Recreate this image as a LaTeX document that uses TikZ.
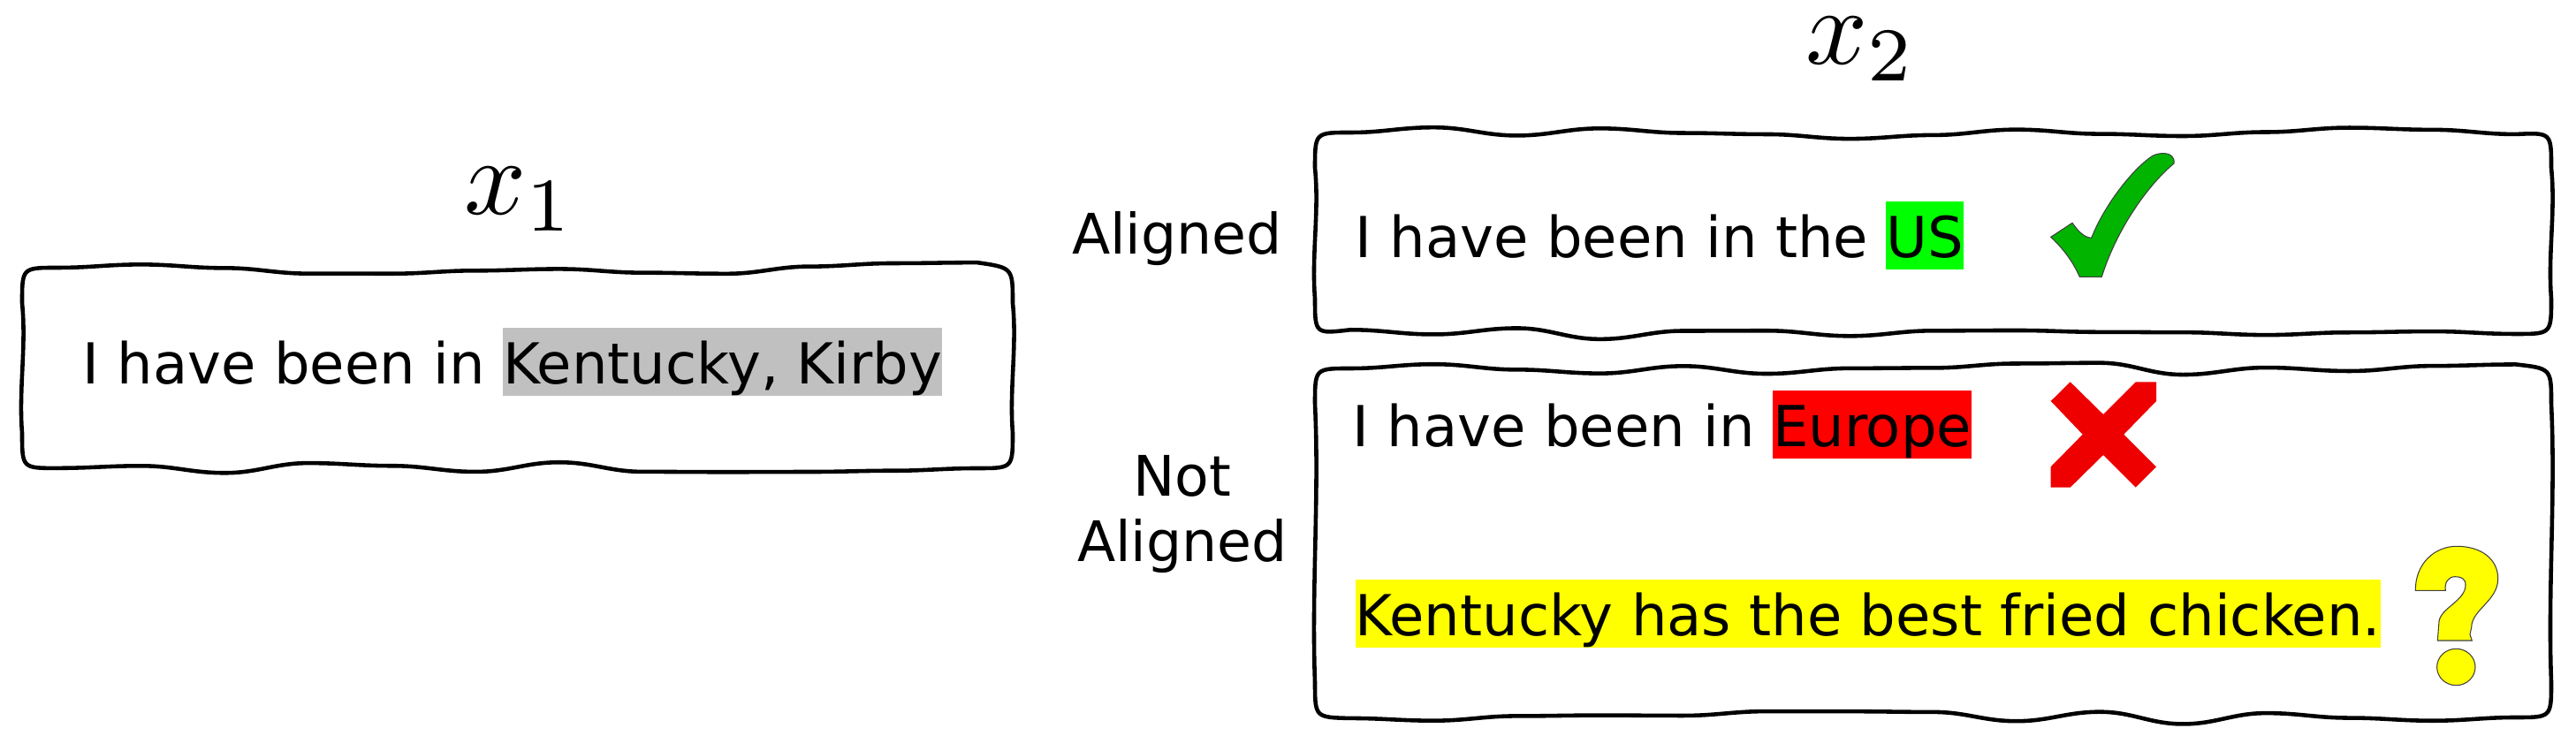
\documentclass[tikz,border=0pt]{standalone}
\usepackage[no-math]{fontspec}
\setmainfont{DejaVu Sans}

\definecolor{hlgray}{RGB}{192,192,192}
\definecolor{hlgreen}{RGB}{0,255,0}
\definecolor{hlred}{RGB}{255,0,0}
\definecolor{hlyellow}{RGB}{255,255,0}
\definecolor{tickgreen}{RGB}{0,180,0}
\definecolor{crossred}{RGB}{238,0,0}

\newcommand{\hlword}[2]{{\setlength{\fboxsep}{0pt}\colorbox{#1}{\rule[-3.7pt]{0pt}{21.8pt}#2}}}

% wavy hand drawn frame: left, top, right, bottom
\newcommand{\sketchframe}[4]{%
  \pgfmathsetmacro\fw{#3-#1-0.8}
  \pgfmathtruncatemacro\fn{round(\fw/0.95)}
  \pgfmathsetmacro\fs{\fw/\fn}
  \pgfmathsetmacro\fh{#2-#4-0.8}
  \draw[framepen] (#1,#2-0.4) .. controls (#1,#2) .. (#1+0.4,#2)
    \foreach \k [evaluate=\k as \a using {0.075*rand}, remember=\a as \prev (initially 0)] in {1,...,\fn}
      { .. controls +(\fs/2.5,0) and +(-\fs/2.5,0) .. ++(\fs,\a-\prev) }
    .. controls (#3,#2) .. (#3,#2-0.4)
    .. controls +(0.05,-\fh/3) and +(-0.04,\fh/3) .. (#3,#4+0.4)
    .. controls (#3,#4) .. (#3-0.4,#4)
    \foreach \k [evaluate=\k as \a using {0.075*rand}, remember=\a as \prev (initially 0)] in {1,...,\fn}
      { .. controls +(-\fs/2.5,0) and +(\fs/2.5,0) .. ++(-\fs,\a-\prev) }
    .. controls (#1,#4) .. (#1,#4+0.4)
    .. controls +(-0.04,\fh/3) and +(0.05,-\fh/3) .. cycle;
}

\begin{document}
\begin{tikzpicture}

    \tikzset{
      framepen/.style={
        line width=1.3pt,
        line join=round,
      },
      sentence/.style={
        anchor=base west,
        inner sep=0pt,
        font=\fontsize{18.2}{21.3}\selectfont,
      },
      tag/.style={
        align=center,
        inner sep=0pt,
        font=\fontsize{18}{21.3}\selectfont,
      },
      symbolfill/.style={draw={black!75}, line width=0.3pt},
    }
    \pgfmathsetseed{5}
    \useasboundingbox (0,0) rectangle (29.15,-8.5);

    \sketchframe{0.25}{-3.03}{11.46}{-5.30}
    \sketchframe{14.88}{-1.50}{28.87}{-3.78}
    \sketchframe{14.88}{-4.17}{28.87}{-8.12}

    \node[anchor=base, inner sep=0pt, scale=3.5] (xone) at (5.88,-2.43) {$x_1$};
    \node[anchor=base, inner sep=0pt, scale=3.5] (xtwo) at (21.06,-0.73) {$x_2$};

    \node[tag, anchor=base] (alignedtag) at (13.32,-2.88) {Aligned};
    \node[tag, anchor=center] (notalignedtag) at (13.38,-5.82) {Not\\Aligned};

    \node[sentence] (srctext) at (0.93,-4.35) {I have been in \hlword{hlgray}{Kentucky, Kirby}};
    \node[sentence] (ustext) at (15.33,-2.92) {I have been in the \hlword{hlgreen}{US}};
    \node[sentence] (eutext) at (15.30,-5.06) {I have been in \hlword{hlred}{Europe}};
    \node[sentence] (kytext) at (15.33,-7.20) {\hlword{hlyellow}{Kentucky has the best fried chicken.}};

    \filldraw[symbolfill, fill=tickgreen] (23.207,-2.683) -- (23.45,-2.523)
      .. controls (23.53,-2.64) and (23.6,-2.69) .. (23.667,-2.693)
      .. controls (23.80,-2.35) and (24.10,-1.95) .. (24.33,-1.783)
      .. controls (24.40,-1.72) and (24.62,-1.70) .. (24.60,-1.85)
      .. controls (24.3,-2.1) and (23.95,-2.6) .. (23.783,-3.133)
      -- (23.533,-3.133)
      .. controls (23.45,-2.95) and (23.35,-2.82) .. cycle;

    \fill[crossred] (23.427,-4.323) -- (23.80,-4.69) -- (24.167,-4.323) -- (24.40,-4.323) -- (24.40,-4.54)
      -- (24.033,-4.917) -- (24.40,-5.283) -- (24.167,-5.517) -- (23.80,-5.15) -- (23.427,-5.517)
      -- (23.207,-5.517) -- (23.207,-5.283) -- (23.567,-4.917) -- (23.207,-4.54) -- cycle;

    \filldraw[symbolfill, fill=hlyellow] (27.333,-6.683)
      .. controls (27.33,-6.38) and (27.55,-6.183) .. (27.80,-6.183)
      .. controls (28.08,-6.183) and (28.267,-6.33) .. (28.267,-6.55)
      .. controls (28.267,-6.80) and (27.97,-6.90) .. (27.967,-7.10)
      -- (27.95,-7.183) -- (27.973,-7.25) -- (27.583,-7.25) -- (27.60,-7.033)
      .. controls (27.62,-6.88) and (27.90,-6.80) .. (27.90,-6.62)
      .. controls (27.90,-6.55) and (27.85,-6.527) .. (27.783,-6.527)
      .. controls (27.70,-6.527) and (27.66,-6.60) .. (27.673,-6.683) -- cycle;
    \filldraw[symbolfill, fill=hlyellow] (27.793,-7.55) ellipse (0.217 and 0.207);

\end{tikzpicture}
\end{document}
